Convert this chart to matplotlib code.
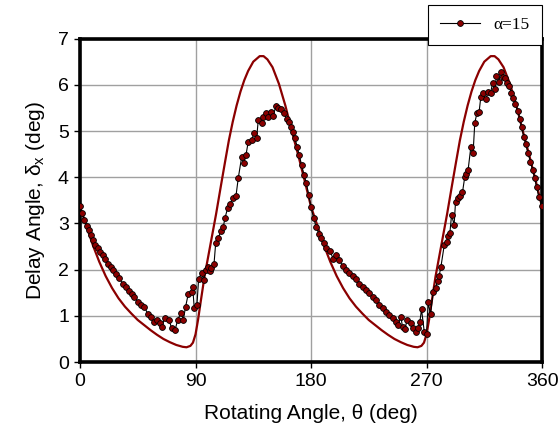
import matplotlib
matplotlib.use('Agg')
import matplotlib.pyplot as plt

plt.rcParams['font.family'] = ['Liberation Sans', 'DejaVu Sans']
plt.rcParams['mathtext.fontset'] = 'custom'
plt.rcParams['mathtext.rm'] = 'Liberation Sans'

# theoretical curve (theta in deg, delay angle in deg)
theory_theta = [0, 5, 10, 15, 20, 25, 30, 35, 40, 45, 50, 55, 60, 65, 70, 75, 80, 83, 86, 88,
                90, 92, 94, 97, 100, 103, 106, 110, 113, 116, 119, 122, 125, 128, 131, 135, 140,
                143, 146, 150, 155, 160, 165, 170, 175,
                180, 185, 190, 195, 200, 205, 210, 215, 220, 225, 230, 235, 240, 245, 250, 255,
                260, 263, 266, 268, 270, 272, 274, 277, 280, 283, 286, 290, 293, 296, 299, 302,
                305, 308, 311, 315, 320, 323, 326, 330, 335, 340, 345, 350, 355, 360]
theory_delta = [3.36, 2.95, 2.53, 2.17, 1.86, 1.6, 1.38, 1.2, 1.05, 0.91, 0.8, 0.69, 0.59, 0.5,
                0.43, 0.37, 0.33, 0.32, 0.35, 0.42, 0.6, 0.92, 1.3, 1.85, 2.3, 2.75, 3.2, 3.85,
                4.33, 4.8, 5.2, 5.55, 5.85, 6.1, 6.3, 6.5, 6.62, 6.62, 6.55, 6.38, 6.02, 5.55,
                5.0, 4.48, 3.93,
                3.36, 2.95, 2.53, 2.17, 1.86, 1.6, 1.38, 1.2, 1.05, 0.91, 0.8, 0.69, 0.59, 0.5,
                0.43, 0.37, 0.33, 0.32, 0.35, 0.42, 0.6, 0.92, 1.3, 1.85, 2.3, 2.75, 3.2, 3.85,
                4.33, 4.8, 5.2, 5.55, 5.85, 6.1, 6.3, 6.5, 6.62, 6.62, 6.55, 6.38, 6.02, 5.55,
                5.0, 4.48, 3.93, 3.36]

# measured points, alpha = 15
meas_theta = [0, 1.5, 3.4, 5.2, 6.7, 8.6, 9.9, 12, 13.8, 15.6, 17.7, 19.5, 21.6, 24.1, 26, 28,
              30.6, 33.2, 35.8, 38.4, 40.5, 42.3, 44.9, 47.5, 50, 52.7, 55.3, 57.9, 59.7, 62.3,
              63.6, 66.2, 69.3, 71.4, 74, 76.1, 78.7, 80.5, 82.3, 84.3, 87, 87.8, 89, 91.1, 92.4,
              94.8, 96.3, 97.9, 99.5, 101.2, 102, 104.4, 105.7, 107.7, 109.8, 111.6, 112.9, 115,
              116.8, 119.4, 121.5, 123.3, 125.9, 127.7, 129.3, 131.1, 133.7, 135.5, 137.6, 138.9,
              141.5, 142.8, 144.9, 146.7, 148.5, 150.5, 152.6, 154.4, 156.3, 158.9, 161, 163,
              164.3, 165.7, 167.5, 169.2, 170.8, 172.7, 174.5, 176.3, 178.2, 180, 182, 184, 186,
              188, 190, 192, 194.7, 197.3, 199.4, 202, 204.6, 207.2, 209.7, 212.4, 215, 217.5,
              220.2, 222.7, 225.3, 227.9, 230.5, 233.1, 235.7, 238.3, 240.9, 243.5, 246.1, 247.9,
              250, 251.3, 253.1, 254.9, 257.6, 259.6, 261.7, 263.5, 264.8, 266.1, 268.2, 270,
              271.3, 273.1, 275.2, 277, 278.6, 279.8, 281.2, 283.8, 285.6, 286.9, 288.2, 289.5,
              291.5, 292.6, 294.6, 296.2, 298, 299.8, 301.1, 302.4, 304.5, 306.3, 307.6, 309.4,
              311, 312.3, 314.1, 316.2, 318, 319.9, 321.4, 323.2, 324.5, 326.3, 327.9, 329.7, 331,
              332.8, 334.4, 336.2, 337.5, 339.3, 340.9, 342.7, 344, 345.8, 347.4, 349.1, 351,
              352.6, 354.4, 355.7, 357.5, 360]
meas_delta = [3.38, 3.22, 3.07, 2.95, 2.86, 2.75, 2.64, 2.53, 2.47, 2.39, 2.32, 2.23, 2.12, 2.06,
              1.99, 1.9, 1.81, 1.7, 1.63, 1.54, 1.47, 1.41, 1.31, 1.23, 1.2, 1.05, 0.98, 0.87,
              0.91, 0.84, 0.76, 0.96, 0.92, 0.73, 0.69, 0.91, 1.07, 0.92, 1.2, 1.47, 1.52, 1.63,
              1.16, 1.23, 1.8, 1.93, 1.77, 2.0, 2.06, 1.98, 2.03, 2.12, 2.57, 2.68, 2.84, 2.92,
              3.11, 3.33, 3.43, 3.54, 3.59, 3.98, 4.43, 4.31, 4.48, 4.77, 4.8, 4.95, 4.84, 5.24,
              5.18, 5.31, 5.38, 5.31, 5.42, 5.32, 5.54, 5.49, 5.47, 5.38, 5.27, 5.2, 5.09, 4.98,
              4.84, 4.66, 4.48, 4.26, 4.05, 3.88, 3.62, 3.35, 3.12, 2.92, 2.78, 2.68, 2.57, 2.46,
              2.4, 2.24, 2.32, 2.21, 2.08, 1.99, 1.93, 1.86, 1.79, 1.7, 1.62, 1.56, 1.49, 1.41,
              1.34, 1.23, 1.16, 1.09, 1.02, 0.95, 0.87, 0.8, 0.98, 0.76, 0.71, 0.91, 0.84, 0.73,
              0.66, 0.73, 0.87, 1.14, 0.66, 0.61, 1.29, 1.03, 1.52, 1.61, 1.75, 1.86, 2.06, 2.53,
              2.6, 2.73, 2.8, 3.18, 2.97, 3.47, 3.54, 3.59, 3.67, 4.01, 4.07, 4.16, 4.65, 4.53,
              5.18, 5.4, 5.42, 5.74, 5.82, 5.69, 5.85, 5.82, 6.03, 5.9, 6.19, 6.07, 6.28, 6.16,
              6.14, 6.03, 5.97, 5.82, 5.71, 5.58, 5.44, 5.27, 5.09, 4.88, 4.71, 4.52, 4.34, 4.16,
              3.98, 3.79, 3.58, 3.38]

x_ticks = [0, 90, 180, 270, 360]
y_ticks = [0, 1, 2, 3, 4, 5, 6, 7]

fig = plt.figure(figsize=(5.58, 4.41), dpi=100)
ax = fig.add_axes([0.1434, 0.179, 0.828, 0.7335])

ax.plot(theory_theta, theory_delta, color='#8b0000', linewidth=1.6, zorder=2)
ax.plot(meas_theta, meas_delta, color='black', linewidth=0.8, marker='o',
        markersize=4.2, markerfacecolor='#8b0000', markeredgecolor='black',
        markeredgewidth=0.6, label='\u03b1=15', zorder=3)

ax.set_xlim(0, 360)
ax.set_ylim(0, 7)
ax.set_xticks(x_ticks)
ax.set_yticks(y_ticks)
ax.grid(True, color='#a0a0a0', linewidth=1.0)
ax.set_axisbelow(True)
for s in ax.spines.values():
    s.set_linewidth(2.6)
    s.set_color('black')
ax.tick_params(axis='both', direction='out', length=4, width=1, labelsize=14, pad=4)

ax.set_xlabel('Rotating Angle, \u03b8 (deg)', fontsize=15, labelpad=10)
ax.set_ylabel('Delay Angle, \u03b4$_\\mathregular{x}$ (deg)', fontsize=15, labelpad=8)

leg = fig.legend(loc='upper right', bbox_to_anchor=(0.971, 0.989),
                 prop={'family': 'Liberation Serif', 'size': 12.5},
                 fancybox=False, framealpha=1, edgecolor='black',
                 handlelength=2.3, borderpad=0.7, borderaxespad=0)
leg.get_frame().set_linewidth(0.8)

fig.savefig('out.png', dpi=100)
